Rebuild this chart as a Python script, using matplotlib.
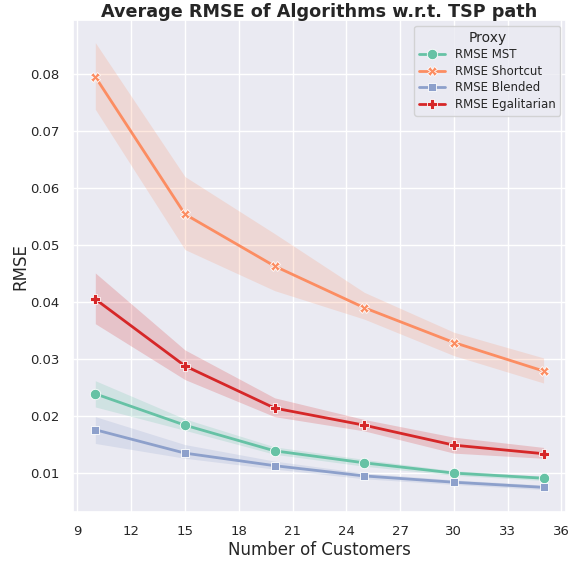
import matplotlib
matplotlib.use("Agg")
import matplotlib.pyplot as plt
import seaborn as sns

customers = [10, 15, 20, 25, 30, 35]

mst = [0.0239, 0.0184, 0.0139, 0.0118, 0.0100, 0.0091]
mst_lo = [0.0216, 0.0175, 0.0133, 0.0112, 0.0096, 0.0087]
mst_hi = [0.0262, 0.0195, 0.0146, 0.0124, 0.0104, 0.0095]

shortcut = [0.0795, 0.0554, 0.0463, 0.0390, 0.0329, 0.0279]
shortcut_lo = [0.0738, 0.0492, 0.0420, 0.0370, 0.0306, 0.0258]
shortcut_hi = [0.0855, 0.0620, 0.0520, 0.0417, 0.0347, 0.0302]

blended = [0.0176, 0.0135, 0.0113, 0.0095, 0.0084, 0.0075]
blended_lo = [0.0152, 0.0126, 0.0107, 0.0090, 0.0080, 0.0071]
blended_hi = [0.0199, 0.0150, 0.0121, 0.0100, 0.0088, 0.0079]

egal = [0.0405, 0.0288, 0.0214, 0.0184, 0.0149, 0.0134]
egal_lo = [0.0362, 0.0264, 0.0199, 0.0174, 0.0135, 0.0126]
egal_hi = [0.0451, 0.0316, 0.0232, 0.0194, 0.0163, 0.0145]

series = [
    ("RMSE MST", mst, mst_lo, mst_hi, "#66c2a5", "o", 7.5),
    ("RMSE Shortcut", shortcut, shortcut_lo, shortcut_hi, "#fc8d62", "X", 6.5),
    ("RMSE Blended", blended, blended_lo, blended_hi, "#8da0cb", "s", 5.5),
    ("RMSE Egalitarian", egal, egal_lo, egal_hi, "#d62728", "P", 6.5),
]

sns.set_theme(style="darkgrid")

fig, ax = plt.subplots(figsize=(5.74, 5.62), dpi=100)
fig.subplots_adjust(left=0.127, right=0.986, bottom=0.089, top=0.964)

for name, y, lo, hi, col, mk, ms in series:
    ax.fill_between(customers, lo, hi, color=col, alpha=0.2, linewidth=0)
    ax.plot(customers, y, color=col, lw=2.0, marker=mk, ms=ms,
            mec="white", mew=0.6, label=name)

ax.set_xticks(range(9, 37, 3))
ax.set_xlim(8.75, 36.25)
ax.tick_params(labelsize=9.5)
ax.set_xlabel("Number of Customers", fontsize=12, labelpad=2)
ax.set_ylabel("RMSE", fontsize=12, labelpad=1)
ax.set_title("Average RMSE of Algorithms w.r.t. TSP path", fontsize=12.7,
             fontweight="bold", pad=2)
ax.legend(title="Proxy", loc="upper right", fontsize=8.5, title_fontsize=10,
          handlelength=2.2, borderpad=0.4, labelspacing=0.3)

plt.savefig("out.png", dpi=100)
